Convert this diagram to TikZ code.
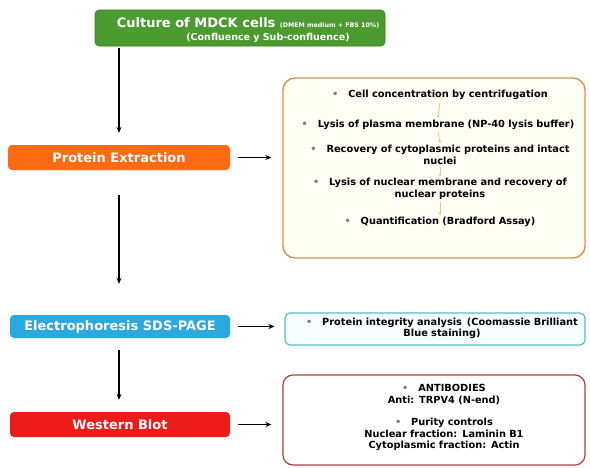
\documentclass[tikz,border=0pt]{standalone}
\usepackage{fontspec}
\setmainfont{DejaVu Sans}
\usetikzlibrary{arrows.meta,positioning,calc}
\definecolor{cgreen}{HTML}{4C9B30}
\definecolor{cgreenb}{HTML}{3C7E25}
\definecolor{corange}{HTML}{FF6A13}
\definecolor{cblue}{HTML}{2AA8E0}
\definecolor{cred}{HTML}{EE1B1B}
\definecolor{bor1}{HTML}{D4924E}
\definecolor{fill1}{HTML}{FFFDF4}
\definecolor{bor2}{HTML}{5CB9CF}
\definecolor{fill2}{HTML}{F7FEFF}
\definecolor{bor3}{HTML}{B3403A}
\definecolor{tanarr}{HTML}{E2C98E}
\begin{document}
\begin{tikzpicture}[x=1pt,y=-1pt,
  stepbox/.style={rectangle, rounded corners=4pt, minimum height=25pt, inner sep=0pt, text=white, font=\bfseries\fontsize{13}{15}\selectfont},
  wlabel/.style={inner sep=0pt, text=white, font=\bfseries},
  panel/.style={rectangle, line width=1.4pt, inner sep=0pt},
  item/.style={align=center, text width=296pt, font=\bfseries\fontsize{9.8}{11.5}\selectfont, inner sep=0pt},
  arr/.style={-{Stealth[length=6pt,width=5pt]}, line width=1.2pt, black},
  sarr/.style={-{Stealth[length=3pt,width=3pt]}, line width=0.8pt, tanarr}
]
\useasboundingbox (0,0) rectangle (590,467);
\fill[white] (0,0) rectangle (590,467);

% left steps
\node[stepbox, fill=cgreen, draw=cgreenb, line width=0.6pt, minimum width=290pt, minimum height=36pt] (cult) at (240,28) {};
\node[wlabel, anchor=base] (cultA) at (248,27) {\fontsize{13}{15}\selectfont Culture of MDCK cells {\fontsize{6.3}{7}\selectfont (DMEM medium + FBS 10\%)}};
\node[wlabel, anchor=base] (cultB) at (268,40) {\fontsize{9.5}{11}\selectfont (Confluence y Sub-confluence)};
\node[stepbox, fill=corange, minimum width=222pt] (pe) at (119,157.5) {Protein Extraction};
\node[stepbox, fill=cblue, minimum width=220pt, minimum height=23pt] (sds) at (120,326.5) {Electrophoresis SDS-PAGE};
\node[stepbox, fill=cred, minimum width=220pt] (wb) at (120,424.5) {Western Blot};

% right panels
\node[panel, draw=bor1, fill=fill1, rounded corners=12pt, minimum width=302pt, minimum height=180pt] (p1) at (434,168) {};
\node[panel, draw=bor2, fill=fill2, rounded corners=5pt, minimum width=300pt, minimum height=32pt, line width=1.2pt] (p2) at (435,329) {};
\node[panel, draw=bor3, fill=white, rounded corners=10pt, minimum width=302pt, minimum height=90pt, line width=1.2pt] (p3) at (434,420) {};

% panel 1 items
\node[item] (i1) at (440,95) {{\color{gray}•}\quad Cell concentration by centrifugation};
\node[item] (i2) at (438,125) {{\color{gray}•}\quad Lysis of plasma membrane (NP-40 lysis buffer)};
\node[item] (i3) at (440,155) {{\color{gray}•}\quad Recovery of cytoplasmic proteins and intact\\ nuclei};
\node[item] (i4) at (440,189) {{\color{gray}•}\quad Lysis of nuclear membrane and recovery of\\ nuclear proteins};
\node[item] (i5) at (440,222) {{\color{gray}•}\quad Quantification (Bradford Assay)};
\draw[sarr] ([yshift=-2pt]i1.south) -- ([yshift=2pt]i2.north);
\draw[sarr] ([yshift=-2pt]i2.south) -- ([yshift=2pt]i3.north);
\draw[sarr] ([yshift=-2pt]i3.south) -- ([yshift=2pt]i4.north);
\draw[sarr] ([yshift=-2pt]i4.south) -- ([yshift=2pt]i5.north);

% panel 2
\node[item] (j1) at (442,328.5) {{\color{gray}•}\quad Protein integrity analysis\enspace(Coomassie Brilliant\\ Blue staining)};

% panel 3
\node[item] (k1) at (444,394.5) {{\color{gray}•}\quad ANTIBODIES\\ Anti: TRPV4 (N-end)};
\node[item] (k2) at (444,434.5) {{\color{gray}•}\quad Purity controls\\ Nuclear fraction: Laminin B1\\ Cytoplasmic fraction: Actin};

% vertical arrows
\draw[arr, shorten <=2pt, shorten >=12pt] (cult.south -| pe.north) -- (pe.north);
\draw[arr, shorten <=25pt, shorten >=31pt] (pe.south) -- (pe.south |- sds.north);
\draw[arr, shorten <=12pt, shorten >=12pt] (sds.south -| pe.south) -- (wb.north -| pe.south);

% horizontal arrows
\draw[arr, shorten <=8pt, shorten >=11pt] (pe.east) -- (pe.east -| p1.west);
\draw[arr, shorten <=8pt, shorten >=10pt] (sds.east) -- (sds.east -| p2.west);
\draw[arr, shorten <=8pt, shorten >=11pt] (wb.east) -- (wb.east -| p3.west);
\end{tikzpicture}
\end{document}
